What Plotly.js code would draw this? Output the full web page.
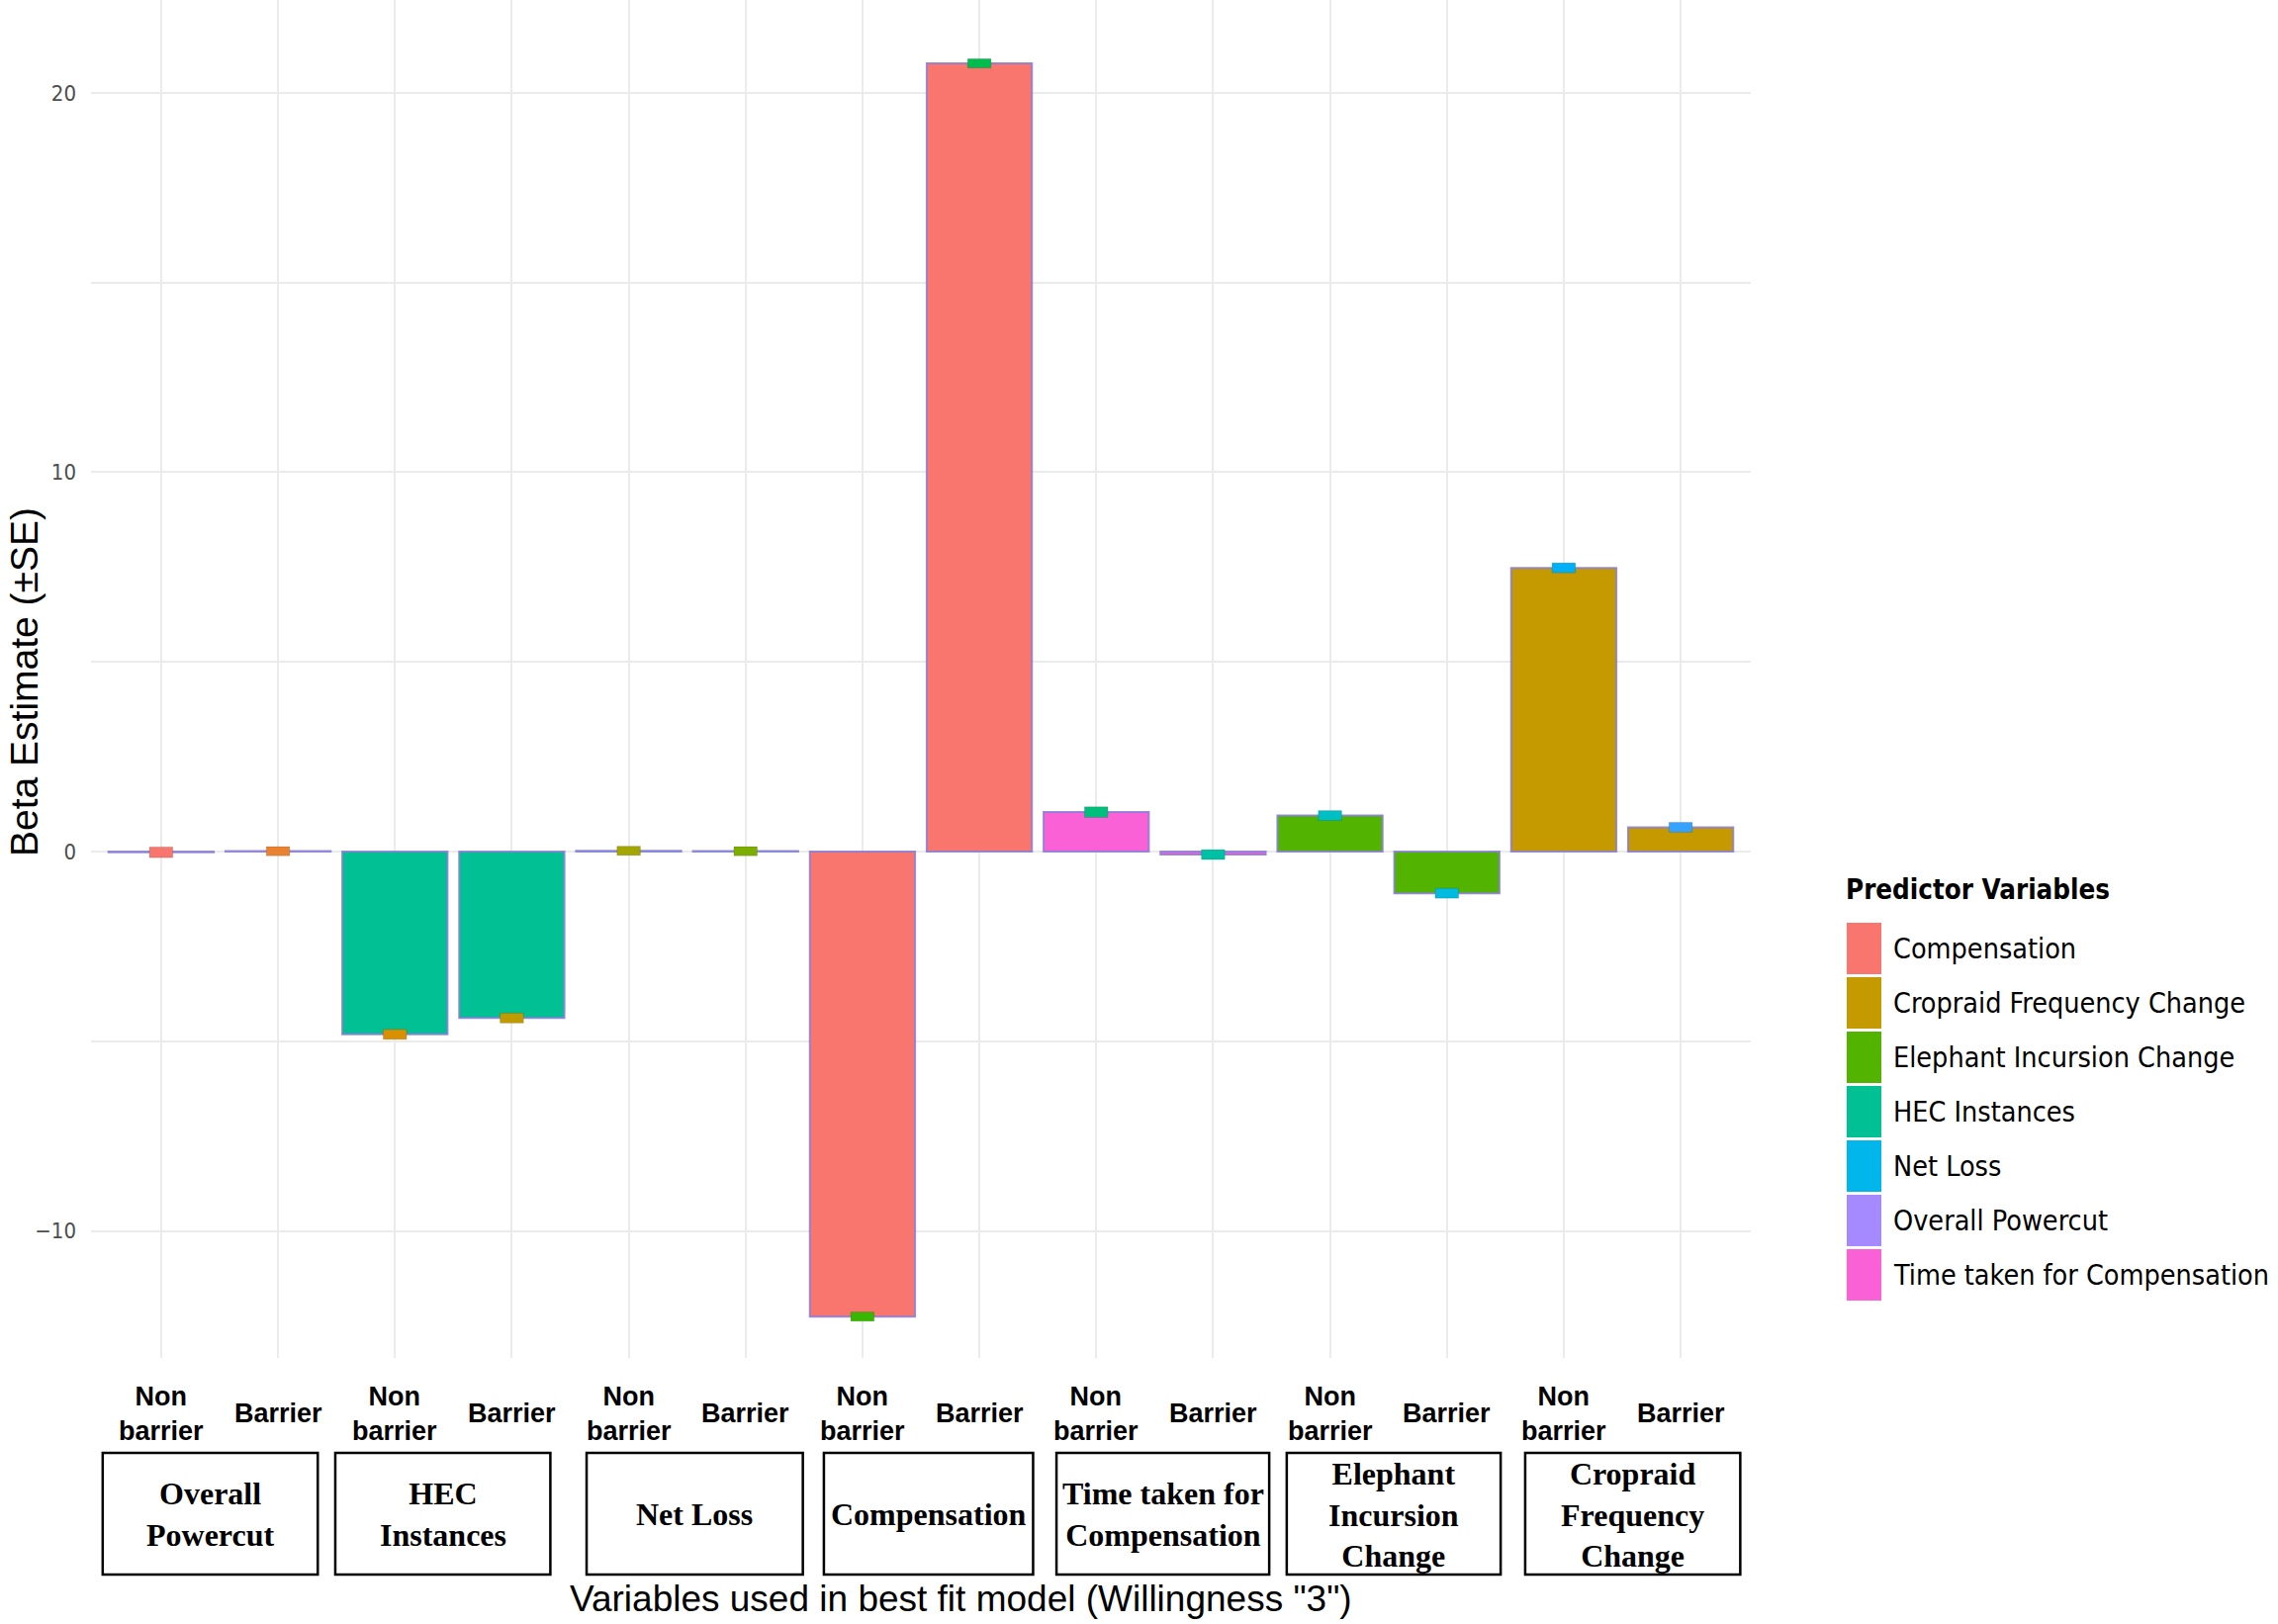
<!DOCTYPE html>
<html>
<head>
<meta charset="utf-8">
<script src="https://cdn.plot.ly/plotly-3.0.1.min.js"></script>
<style>
  html, body { margin: 0; padding: 0; background: #fff; }
  #chart { width: 2303px; height: 1642px; }
</style>
</head>
<body>
<div id="chart"></div>
<script>
// predictor groups along the x axis (left to right)
const groups = ['Overall Powercut', 'HEC Instances', 'Net Loss', 'Compensation',
  'Time taken for Compensation', 'Elephant Incursion Change', 'Cropraid Frequency Change'];
const groupLabels = ['Overall<br>Powercut', 'HEC<br>Instances', 'Net Loss', 'Compensation',
  'Time taken for<br>Compensation', 'Elephant<br>Incursion<br>Change', 'Cropraid<br>Frequency<br>Change'];
const siteLabels = ['Non<br>barrier', 'Barrier'];

// legend order (alphabetical, as in the original)
const predictors = ['Compensation', 'Cropraid Frequency Change', 'Elephant Incursion Change',
  'HEC Instances', 'Net Loss', 'Overall Powercut', 'Time taken for Compensation'];
const predictorColors = ['#F8766D', '#C49A00', '#53B400', '#00C094', '#00B6EB', '#A58AFF', '#FB61D7'];

// beta estimates and SE, per group
const betaNonBarrier = [-0.02, -4.82, 0.02, -12.26, 1.04, 0.95, 7.48];
const betaBarrier = [0.01, -4.39, 0.01, 20.78, -0.08, -1.10, 0.64];
const seNonBarrier = [0.14, 0.13, 0.12, 0.12, 0.14, 0.13, 0.13];
const seBarrier = [0.12, 0.13, 0.12, 0.12, 0.13, 0.13, 0.13];

// colour of each error marker (NB, B, NB, B, ...)
const errorColors = ['#F8766D', '#EA8331', '#D89000', '#C09B00', '#A3A500', '#7CAE00', '#39B600',
  '#00BB4E', '#00BF7D', '#00C1A3', '#00BFC4', '#00BAE0', '#00B0F6', '#35A2FF'];

// box edges of the group labels, in x units
const boxEdges = [[-0.50, 1.34], [1.49, 3.33], [3.64, 5.49], [5.67, 7.46],
  [7.66, 9.48], [9.63, 11.46], [11.67, 13.51]];

const barOutline = 'rgba(135,125,215,0.85)';

const traces = [];
groups.forEach((g, gi) => {
  const color = predictorColors[predictors.indexOf(g)];
  traces.push({
    type: 'bar',
    name: g,
    x: [gi * 2, gi * 2 + 1],
    y: [betaNonBarrier[gi], betaBarrier[gi]],
    width: 0.9,
    marker: { color: color, line: { color: barOutline, width: 2 } },
    showlegend: false,
    hoverinfo: 'x+y'
  });
});

// error markers (mean ± SE) as thin rects
const ex = [], ebase = [], eh = [];
groups.forEach((g, gi) => {
  ex.push(gi * 2, gi * 2 + 1);
  ebase.push(betaNonBarrier[gi] - seNonBarrier[gi], betaBarrier[gi] - seBarrier[gi]);
  eh.push(2 * seNonBarrier[gi], 2 * seBarrier[gi]);
});
traces.push({
  type: 'bar',
  name: 'SE',
  x: ex,
  base: ebase,
  y: eh,
  width: 0.2,
  marker: { color: errorColors, line: { color: 'rgba(0,0,0,0.12)', width: 1 } },
  showlegend: false
});

const W = 2303, H = 1642;
const ml = 92, mr = 533, mt = 0, mb = 269;
const plotH = H - mt - mb;
const py = (pix) => (plotH - (pix - mt)) / plotH;   // pixel row -> paper y
const px = (pix) => (pix - ml) / (W - ml - mr);      // pixel col -> paper x

const shapes = [];
const annotations = [];
const narrow = 'DejaVu Sans Condensed, Liberation Sans Narrow, Arial Narrow, sans-serif';
const sans = 'Liberation Sans, Arial, sans-serif';

// sub category labels and group boxes
groups.forEach((g, gi) => {
  siteLabels.forEach((s, si) => {
    annotations.push({
      xref: 'x', yref: 'paper', x: gi * 2 + si, y: py(1429),
      text: '<b>' + s + '</b>', showarrow: false, xanchor: 'center', yanchor: 'middle',
      font: { family: sans, size: 27, color: '#000' }
    });
  });
  const [x0, x1] = boxEdges[gi];
  shapes.push({
    type: 'rect', xref: 'x', yref: 'paper', x0: x0, x1: x1, y0: py(1592), y1: py(1469),
    line: { color: '#000', width: 2.5 }, fillcolor: 'rgba(0,0,0,0)'
  });
  annotations.push({
    xref: 'x', yref: 'paper', x: (x0 + x1) / 2, y: py(1531),
    text: '<b>' + groupLabels[gi] + '</b>', showarrow: false, xanchor: 'center', yanchor: 'middle',
    font: { family: 'Liberation Serif, Times New Roman, serif', size: 32, color: '#000' }
  });
});

// axis titles
annotations.push({
  xref: 'paper', yref: 'paper', x: px(971), y: py(1616),
  text: 'Variables used in best fit model (Willingness "3")', showarrow: false,
  xanchor: 'center', yanchor: 'middle',
  font: { family: sans, size: 37, color: '#000' }
});
annotations.push({
  xref: 'paper', yref: 'paper', x: px(24), y: py(690),
  text: 'Beta Estimate (\u00B1SE)', showarrow: false, textangle: -90,
  xanchor: 'center', yanchor: 'middle',
  font: { family: sans, size: 39, color: '#000' }
});

// legend
annotations.push({
  xref: 'paper', yref: 'paper', x: px(1864), y: py(899),
  text: '<b>Predictor Variables</b>', showarrow: false, xanchor: 'left', yanchor: 'middle',
  font: { family: narrow, size: 27.5, color: '#000' }
});
predictors.forEach((p, i) => {
  const top = 933 + 55 * i;
  shapes.push({
    type: 'rect', xref: 'paper', yref: 'paper', x0: px(1867), x1: px(1902),
    y0: py(top + 52), y1: py(top), line: { width: 0 }, fillcolor: predictorColors[i]
  });
  annotations.push({
    xref: 'paper', yref: 'paper', x: px(1912), y: py(top + 26),
    text: p, showarrow: false, xanchor: 'left', yanchor: 'middle',
    font: { family: narrow, size: 28.5, color: '#000' }
  });
});

const layout = {
  width: W, height: H,
  margin: { l: ml, r: mr, t: mt, b: mb },
  paper_bgcolor: '#fff', plot_bgcolor: '#fff',
  barmode: 'overlay',
  showlegend: false,
  xaxis: {
    range: [-0.6, 13.6],
    tickvals: [0, 1, 2, 3, 4, 5, 6, 7, 8, 9, 10, 11, 12, 13],
    showticklabels: false, ticks: '',
    showgrid: true, gridcolor: '#ebebeb', gridwidth: 2,
    zeroline: false, showline: false
  },
  yaxis: {
    range: [-13.35, 22.45],
    tickvals: [-10, 0, 10, 20],
    ticks: '', ticklabelstandoff: 14,
    tickfont: { family: narrow, size: 22, color: '#4d4d4d' },
    showgrid: true, gridcolor: '#ebebeb', gridwidth: 2,
    minor: { tickvals: [-5, 5, 15], showgrid: true, gridcolor: '#ebebeb', gridwidth: 2 },
    zeroline: false, showline: false
  },
  shapes: shapes,
  annotations: annotations
};

Plotly.newPlot('chart', traces, layout, { staticPlot: true });
</script>
</body>
</html>
